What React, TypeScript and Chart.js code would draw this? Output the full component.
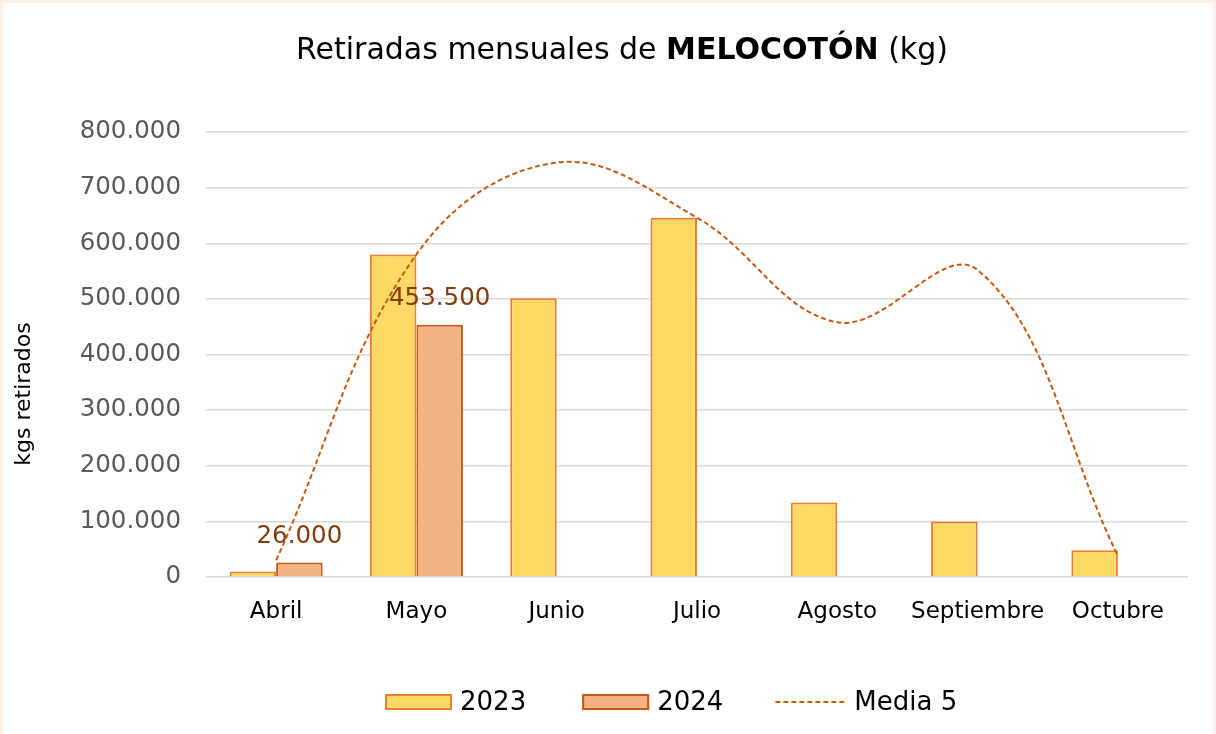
import React, { useEffect, useRef } from "react";
import { Chart, registerables } from "chart.js";

Chart.register(...registerables);

const categories = ["Abril", "Mayo", "Junio", "Julio", "Agosto", "Septiembre", "Octubre"];
const values2023 = [10000, 580000, 501000, 646000, 134000, 100000, 48000];
const values2024 = [26000, 453500, null, null, null, null, null];
const media5 = [30000, 580000, 745000, 646000, 458000, 552000, 38000];
const seriesNames = ["2023", "2024", "Media 5"];
const titleParts = [
  { text: "Retiradas mensuales de ", bold: false },
  { text: "MELOCOTÓN", bold: true },
  { text: " (kg)", bold: false },
];
const yAxisTitle = "kgs retirados";
const yMax = 800000;
const yStep = 100000;

const FONT = "'DejaVu Sans', sans-serif";
const C2023 = "#FFD966";
const C2023B = "#ED7D31";
const C2024 = "#F4B183";
const C2024B = "#C55A11";
const CLINE = "#C55A11";
const CLABEL = "#843C0C";

const fmt = (n: number) => String(Math.round(n)).replace(/\B(?=(\d{3})+(?!\d))/g, ".");

const decorPlugin = {
  id: "decor",
  beforeDraw(chart: any) {
    const { ctx, width, height } = chart;
    ctx.save();
    ctx.fillStyle = "#FCF1E6";
    ctx.fillRect(0, 0, width, height);
    ctx.fillStyle = "#FFFFFF";
    ctx.fillRect(3, 3, width - 6, height - 3);
    ctx.restore();
  },
  afterDatasetsDraw(chart: any) {
    const { ctx } = chart;
    const meta = chart.getDatasetMeta(1);
    ctx.save();
    ctx.font = `24.5px ${FONT}`;
    ctx.fillStyle = CLABEL;
    ctx.textAlign = "center";
    ctx.textBaseline = "middle";
    meta.data.forEach((el: any, i: number) => {
      const v = values2024[i];
      if (v == null) return;
      ctx.fillText(fmt(v), el.x, el.y - 26);
    });
    ctx.restore();
  },
  afterDraw(chart: any) {
    const { ctx } = chart;
    ctx.save();
    // Title
    const fontFor = (b: boolean) => `${b ? "bold " : ""}30px ${FONT}`;
    let total = 0;
    titleParts.forEach((p) => {
      ctx.font = fontFor(p.bold);
      total += ctx.measureText(p.text).width;
    });
    let x = 622 - total / 2;
    ctx.fillStyle = "#000000";
    ctx.textBaseline = "alphabetic";
    ctx.textAlign = "left";
    titleParts.forEach((p) => {
      ctx.font = fontFor(p.bold);
      ctx.fillText(p.text, x, 59);
      x += ctx.measureText(p.text).width;
    });

    // Y axis title
    ctx.save();
    ctx.translate(24, 394);
    ctx.rotate(-Math.PI / 2);
    ctx.font = `22px ${FONT}`;
    ctx.textAlign = "center";
    ctx.textBaseline = "middle";
    ctx.fillStyle = "#000000";
    ctx.fillText(yAxisTitle, 0, 0);
    ctx.restore();

    // Legend
    const ly = 702;
    ctx.font = `26px ${FONT}`;
    ctx.textBaseline = "middle";
    ctx.textAlign = "left";
    let lx = 385;
    const boxW = 67;
    const boxH = 16;
    const fills = [C2023, C2024];
    const borders = [C2023B, C2024B];
    for (let i = 0; i < 2; i++) {
      ctx.fillStyle = fills[i];
      ctx.fillRect(lx, ly - boxH / 2, boxW, boxH);
      ctx.strokeStyle = borders[i];
      ctx.lineWidth = 2;
      ctx.strokeRect(lx + 1, ly - boxH / 2 + 1, boxW - 2, boxH - 2);
      ctx.fillStyle = "#000000";
      ctx.fillText(seriesNames[i], lx + boxW + 8, ly + 1);
      lx += boxW + 8 + ctx.measureText(seriesNames[i]).width + 56;
    }
    lx -= 4;
    ctx.strokeStyle = CLINE;
    ctx.lineWidth = 2;
    ctx.setLineDash([5, 3]);
    ctx.beginPath();
    ctx.moveTo(lx, ly);
    ctx.lineTo(lx + 70, ly);
    ctx.stroke();
    ctx.setLineDash([]);
    ctx.fillStyle = "#000000";
    ctx.fillText(seriesNames[2], lx + 79, ly + 1);
    ctx.restore();
  },
};

export default function App() {
  const ref = useRef<HTMLCanvasElement | null>(null);
  useEffect(() => {
    document.body.style.margin = "0";
    const canvas = ref.current!;
    const chart = new Chart(canvas, {
      type: "bar",
      data: {
        labels: categories,
        datasets: [
          {
            type: "bar",
            label: seriesNames[0],
            data: values2023,
            backgroundColor: C2023,
            borderColor: C2023B,
            borderWidth: 2,
            barPercentage: 1,
            categoryPercentage: 0.663,
            order: 1,
          },
          {
            type: "bar",
            label: seriesNames[1],
            data: values2024 as any,
            backgroundColor: C2024,
            borderColor: C2024B,
            borderWidth: 2,
            barPercentage: 1,
            categoryPercentage: 0.663,
            order: 1,
          },
          {
            type: "line",
            label: seriesNames[2],
            data: media5,
            borderColor: CLINE,
            borderWidth: 2,
            borderDash: [5, 3],
            pointRadius: 0,
            tension: 0.38,
            fill: false,
            order: 0,
          } as any,
        ],
      },
      options: {
        responsive: false,
        animation: false,
        devicePixelRatio: 1,
        layout: { padding: { top: 132, right: 28, bottom: 87, left: 0 } },
        plugins: {
          legend: { display: false },
          title: { display: false },
          tooltip: { enabled: false },
        },
        scales: {
          x: {
            grid: { display: false, drawTicks: false },
            border: { display: false },
            ticks: {
              color: "#000000",
              font: { family: FONT, size: 23 },
              padding: 21,
              maxRotation: 0,
              autoSkip: false,
            },
            afterFit: (scale: any) => {
              scale.height = 70;
            },
          },
          y: {
            min: 0,
            max: yMax,
            grid: { color: "#D9D9D9", lineWidth: 1.5, drawTicks: false },
            border: { display: false },
            ticks: {
              stepSize: yStep,
              color: "#595959",
              font: { family: FONT, size: 24.5 },
              padding: 25,
              callback: (v: any) => fmt(Number(v)),
            },
            afterFit: (scale: any) => {
              scale.width = 206;
            },
          },
        },
      },
      plugins: [decorPlugin],
    });
    return () => chart.destroy();
  }, []);
  return <canvas ref={ref} width={1216} height={734} style={{ display: "block" }} />;
}
